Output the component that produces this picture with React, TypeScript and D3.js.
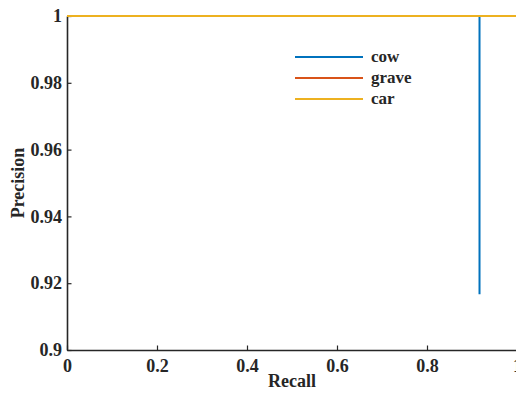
import * as d3 from "d3";
import { useRef, useEffect } from "react";

// precision-recall curves, one per class
const cowRecall = [0, 0.9167, 0.9167];
const cowPrecision = [1, 1, 0.9167];
const graveRecall = [0, 1];
const gravePrecision = [1, 1];
const carRecall = [0, 1];
const carPrecision = [1, 1];

const seriesNames = ["cow", "grave", "car"];
const seriesColors = ["#0072BD", "#D95319", "#EDB120"];

const xTicks = [0, 0.2, 0.4, 0.6, 0.8, 1];
const yTicks = [0.9, 0.92, 0.94, 0.96, 0.98, 1];

const width = 516;
const height = 396;
const marginLeft = 67;
const marginTop = 16;
const plotRight = 517;
const plotBottom = 350;

const font = "'Liberation Serif', 'Times New Roman', serif";
const ink = "#262626";

export default function App() {
  const gx = useRef<SVGGElement | null>(null);
  const gy = useRef<SVGGElement | null>(null);

  const x = d3.scaleLinear().domain([0, 1]).range([marginLeft, plotRight]);
  const y = d3.scaleLinear().domain([0.9, 1]).range([plotBottom, marginTop]);

  const fmt = (d: d3.NumberValue) => String(+(+d).toFixed(2));

  useEffect(() => {
    if (gx.current) {
      const g = d3.select(gx.current);
      g.call(
        d3
          .axisBottom(x)
          .tickValues(xTicks)
          .tickFormat(fmt)
          .tickSizeInner(-4.5)
          .tickSizeOuter(0)
          .tickPadding(9)
      );
      g.select(".domain").attr("stroke", ink).attr("stroke-width", 1.6);
      g.selectAll(".tick line").attr("stroke", ink).attr("stroke-width", 1.2);
      g.selectAll(".tick text")
        .attr("fill", ink)
        .attr("font-family", font)
        .attr("font-weight", "bold")
        .attr("font-size", 18);
    }
  }, [gx, x]);

  useEffect(() => {
    if (gy.current) {
      const g = d3.select(gy.current);
      g.call(
        d3
          .axisLeft(y)
          .tickValues(yTicks)
          .tickFormat(fmt)
          .tickSizeInner(-4.5)
          .tickSizeOuter(0)
          .tickPadding(5)
      );
      g.select(".domain").attr("stroke", ink).attr("stroke-width", 1.6);
      g.selectAll(".tick line").attr("stroke", ink).attr("stroke-width", 1.2);
      g.selectAll(".tick text")
        .attr("fill", ink)
        .attr("font-family", font)
        .attr("font-weight", "bold")
        .attr("font-size", 18);
    }
  }, [gy, y]);

  const line = d3.line<[number, number]>(
    (d) => x(d[0]),
    (d) => y(d[1])
  );

  const series = [
    d3.zip(cowRecall, cowPrecision) as [number, number][],
    d3.zip(graveRecall, gravePrecision) as [number, number][],
    d3.zip(carRecall, carPrecision) as [number, number][],
  ];

  return (
    <svg
      width={width}
      height={height}
      style={{ position: "absolute", left: 0, top: 0, background: "white" }}
    >
      <g ref={gx} transform={`translate(0,${plotBottom})`} />
      <g ref={gy} transform={`translate(${marginLeft},0)`} />
      {series.map((s, i) => (
        <path
          key={seriesNames[i]}
          d={line(s) || undefined}
          fill="none"
          stroke={seriesColors[i]}
          strokeWidth={2}
        />
      ))}
      <g fontFamily={font} fontWeight="bold" fontSize={17} fill={ink}>
        {seriesNames.map((name, i) => (
          <g key={name} transform={`translate(295,${57 + i * 21})`}>
            <line x1={0} x2={68} y1={0} y2={0} stroke={seriesColors[i]} strokeWidth={2} />
            <text x={76} y={0} dy="0.32em">
              {name}
            </text>
          </g>
        ))}
      </g>
      <text
        x={x(0.5)}
        y={387}
        textAnchor="middle"
        fontFamily={font}
        fontWeight="bold"
        fontSize={18}
        fill={ink}
      >
        Recall
      </text>
      <text
        transform={`translate(24,${(marginTop + plotBottom) / 2}) rotate(-90)`}
        textAnchor="middle"
        fontFamily={font}
        fontWeight="bold"
        fontSize={18}
        fill={ink}
      >
        Precision
      </text>
    </svg>
  );
}
